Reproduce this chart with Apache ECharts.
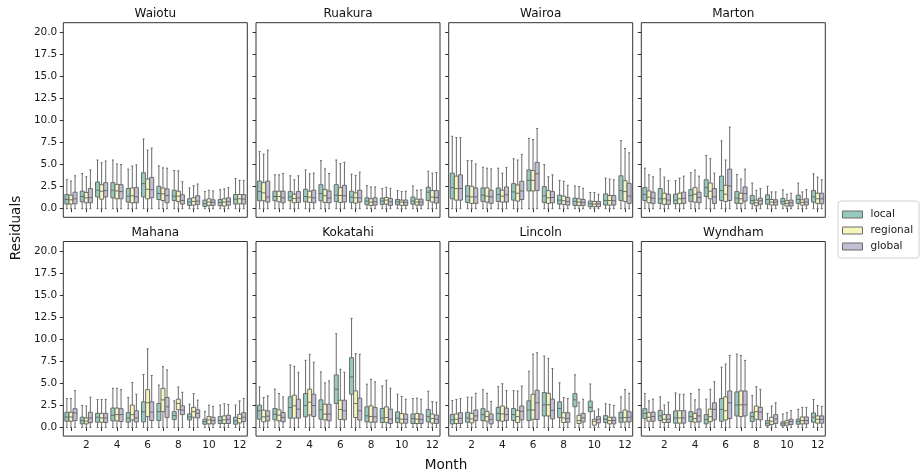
<!DOCTYPE html>
<html><head><meta charset="utf-8">
<script src="https://cdn.jsdelivr.net/npm/echarts@6/dist/echarts.min.js"></script>
<style>html,body{margin:0;padding:0;background:#fff}#c{width:921px;height:476px}</style>
</head><body><div id="c"></div><script>
const months = ['1','2','3','4','5','6','7','8','9','10','11','12'];
const sites = ['Waiotu','Ruakura','Wairoa','Marton','Mahana','Kokatahi','Lincoln','Wyndham'];
const models = ['local','regional','global'];
const yTicks = [0,2.5,5,7.5,10,12.5,15,17.5,20];

// each entry: [min, q1, median, q3, max]
const waiotuLocal = [[0,0.52,1.04,1.6,3.28],[0,0.78,1.38,1.98,3.99],[0,1.34,2.09,3.02,5.52],[0,1.23,2.09,2.95,5.52],[0,0.75,1.42,2.28,4.48],[0,1.34,2.84,4.07,7.91],[0,1.04,1.72,2.54,4.85],[0,0.93,1.42,2.09,4.33],[0,0.37,0.75,1.12,2.35],[0,0.26,0.56,0.97,1.94],[0,0.34,0.71,1.04,2.16],[0,0.52,1.08,1.6,3.4]];
const waiotuRegional = [[0,0.52,1.0,1.53,3.13],[0,0.67,1.23,1.83,3.62],[0,1.08,1.98,2.72,5.22],[0,1.12,2.01,2.76,5.07],[0,0.67,1.46,2.35,4.85],[0,1.12,2.2,3.36,6.64],[0,0.93,1.68,2.35,4.63],[0,0.82,1.42,1.98,4.29],[0,0.41,0.82,1.23,2.61],[0,0.37,0.75,1.12,2.09],[0,0.3,0.75,1.12,2.24],[0,0.56,1.12,1.6,3.21]];
const waiotuGlobal = [[0,0.56,1.12,1.87,3.73],[0,0.67,1.25,2.28,4.4],[0,1.34,2.05,2.95,5.41],[0,1.12,1.94,2.72,5.0],[0,0.67,1.34,2.39,4.96],[0,1.23,2.16,3.54,6.87],[0,0.67,1.49,2.24,4.59],[0,0.52,0.93,1.57,3.06],[0,0.49,0.86,1.46,2.8],[0,0.37,0.71,1.0,2.01],[0,0.41,0.82,1.23,2.39],[0,0.52,1.08,1.6,3.21]];

const ruakuraLocal = [[0,0.9,1.94,3.13,6.49],[0,0.9,1.38,1.98,3.84],[0,0.9,1.34,1.94,3.73],[0,0.78,1.38,2.2,4.4],[0,0.9,1.72,2.72,5.45],[0,0.82,1.53,2.72,5.52],[0,0.71,1.31,1.98,3.92],[0,0.45,0.86,1.23,2.61],[0,0.49,0.86,1.19,2.28],[0,0.45,0.78,1.04,2.05],[0,0.52,0.86,1.31,2.57],[0,0.93,1.87,2.43,4.25]];
const ruakuraRegional = [[0,0.9,1.79,2.95,6.19],[0,0.78,1.38,1.98,3.84],[0,0.67,1.16,1.64,3.28],[0,0.71,1.31,1.98,3.96],[0,0.71,1.46,2.16,4.51],[0,0.71,1.49,2.39,5.11],[0,0.63,1.23,1.79,3.77],[0,0.37,0.75,1.12,2.46],[0,0.52,0.97,1.27,2.43],[0,0.37,0.75,0.97,1.94],[0,0.41,0.75,1.08,2.09],[0,0.75,1.31,2.05,4.03]];
const ruakuraGlobal = [[0,0.75,1.31,3.13,6.64],[0,0.67,1.23,1.98,3.99],[0,0.71,1.23,1.94,3.73],[0,0.67,1.23,2.09,4.03],[0,0.67,1.19,2.01,3.99],[0,0.75,1.46,2.65,5.26],[0,0.75,1.23,2.09,4.14],[0,0.41,0.78,1.23,2.46],[0,0.37,0.78,1.16,2.31],[0,0.37,0.71,0.97,1.98],[0,0.41,0.75,1.08,2.13],[0,0.63,1.27,2.05,4.1]];

const wairoaLocal = [[0,1.12,2.39,4.03,8.21],[0,0.71,1.42,2.61,5.45],[0,0.82,1.53,2.35,4.7],[0,0.82,1.6,2.35,4.59],[0,0.97,1.9,2.84,5.67],[0,2.01,3.21,4.4,7.99],[0,0.71,1.46,2.5,5.0],[0,0.52,0.97,1.53,3.21],[0,0.37,0.82,1.19,2.57],[0,0.22,0.56,0.86,1.83],[0,0.41,0.93,1.68,3.47],[0,0.93,2.05,3.73,7.72]];
const wairoaRegional = [[0,0.97,2.28,3.69,8.06],[0,0.6,1.34,2.54,5.45],[0,0.75,1.42,2.35,4.59],[0,0.75,1.42,2.09,4.03],[0,0.86,1.75,2.69,5.52],[0,2.01,3.21,4.33,7.84],[0,0.6,1.23,2.05,3.62],[0,0.49,0.9,1.42,3.1],[0,0.37,0.75,1.12,2.5],[0,0.22,0.52,0.82,1.83],[0,0.41,0.93,1.49,3.36],[0,0.82,1.94,3.17,6.83]];
const wairoaGlobal = [[0,0.97,2.28,3.84,8.06],[0,0.6,1.34,2.35,5.07],[0,0.6,1.34,2.09,4.51],[0,0.75,1.57,2.46,4.66],[0,1.04,2.01,3.1,6.16],[0,2.05,3.96,5.26,9.1],[0,0.67,1.27,1.94,3.84],[0,0.41,0.82,1.27,2.65],[0,0.37,0.71,1.04,2.31],[0,0.22,0.56,0.82,1.64],[0,0.41,0.9,1.49,3.28],[0,0.6,1.42,2.87,6.34]];

const martonLocal = [[0,0.93,1.6,2.39,4.59],[0,0.6,1.12,2.28,4.51],[0,0.56,0.97,1.64,3.17],[0,0.82,1.49,2.16,4.07],[0,1.38,2.39,3.28,6.04],[0,0.93,2.05,3.69,7.69],[0,0.6,1.19,1.94,3.88],[0,0.56,0.93,1.49,2.91],[0,0.52,1.04,1.57,2.54],[0,0.52,0.82,1.16,2.13],[0,0.6,1.04,1.53,2.91],[0,0.75,1.34,2.05,3.96]];
const martonRegional = [[0,0.67,1.31,2.01,3.84],[0,0.49,1.12,1.75,3.58],[0,0.56,1.12,1.75,3.47],[0,0.75,1.64,2.39,4.37],[0,1.12,1.98,2.91,5.67],[0,0.82,1.64,2.65,5.52],[0,0.6,1.12,1.75,3.36],[0,0.34,0.67,0.97,2.09],[0,0.41,0.75,1.04,1.9],[0,0.3,0.6,0.9,1.64],[0,0.41,0.71,1.01,1.9],[0,0.6,1.12,1.75,3.58]];
const martonGlobal = [[0,0.6,1.19,1.87,3.62],[0,0.49,0.97,1.64,3.17],[0,0.6,1.16,1.87,3.69],[0,0.67,1.27,1.87,3.69],[0,0.6,1.34,2.28,4.03],[0,0.93,2.57,4.48,9.25],[0,0.86,1.72,2.46,4.48],[0,0.49,0.9,1.19,2.28],[0,0.41,0.75,1.01,1.9],[0,0.3,0.67,0.97,1.75],[0,0.41,0.75,1.12,2.16],[0,0.56,1.12,1.75,3.28]];

const mahanaLocal = [[0,0.71,1.19,1.72,3.28],[0,0.41,0.78,1.16,2.5],[0,0.6,1.16,1.6,3.17],[0,0.75,1.38,2.2,4.44],[0,0.6,1.08,1.68,3.4],[0,0.63,1.79,2.91,6.01],[0,0.78,1.79,2.72,4.81],[0,0.9,1.34,1.79,3.02],[0,0.86,1.19,1.53,2.65],[0,0.37,0.67,0.93,1.83],[0,0.45,0.78,1.23,2.54],[0,0.37,0.75,1.16,2.54]];
const mahanaRegional = [[0,0.71,1.19,1.72,3.28],[0,0.41,0.71,1.08,2.43],[0,0.6,1.08,1.6,3.17],[0,0.75,1.46,2.2,4.44],[0,0.86,1.46,2.54,5.11],[0,1.23,2.8,4.29,8.92],[0,1.79,3.13,4.44,6.9],[0,2.01,2.72,3.21,4.59],[0,1.16,1.79,2.28,3.84],[0,0.41,0.86,1.23,2.54],[0,0.45,0.86,1.31,2.69],[0,0.52,1.01,1.49,3.02]];
const mahanaGlobal = [[0,0.78,1.64,2.13,4.18],[0,0.56,1.08,1.72,3.43],[0,0.56,1.08,1.6,3.17],[0,0.67,1.46,2.13,4.29],[0,0.63,1.08,1.9,3.77],[0,0.78,1.75,2.91,5.9],[0,1.12,2.35,3.4,6.53],[0,1.46,1.98,2.46,3.99],[0,1.08,1.6,2.01,3.1],[0,0.41,0.78,1.16,2.39],[0,0.45,0.93,1.38,2.61],[0,0.67,1.16,1.68,3.28]];

const kokatahiLocal = [[0,0.94,1.89,2.53,4.6],[0,0.87,1.51,2.15,4.34],[0,1.06,2.26,3.47,7.09],[0,1.21,2.49,3.85,7.62],[0,0.94,2.0,3.13,6.3],[0,2.72,4.34,5.96,10.64],[0,3.77,5.74,7.92,12.38],[0,0.64,1.32,2.34,4.91],[0,0.57,1.06,2.15,4.72],[0,0.57,1.06,1.77,3.77],[0,0.45,1.02,1.51,3.28],[0,0.64,1.25,2.04,4.11]];
const kokatahiRegional = [[0,0.64,1.21,1.96,3.4],[0,0.75,1.4,2.0,3.85],[0,1.06,2.45,3.66,6.94],[0,1.43,2.87,4.34,8.3],[0,0.87,1.51,2.64,5.06],[0,0.91,2.04,3.09,6.6],[0,1.13,2.72,4.15,8.38],[0,0.6,1.25,2.45,5.47],[0,0.57,1.13,2.34,5.36],[0,0.49,0.94,1.58,3.51],[0,0.45,0.94,1.58,3.32],[0,0.49,1.02,1.51,2.94]];
const kokatahiGlobal = [[0,0.75,1.28,1.89,3.58],[0,0.64,1.13,1.7,3.47],[0,1.06,2.08,3.2,6.26],[0,1.25,2.49,3.77,7.4],[0,0.75,1.51,2.64,5.28],[0,0.87,1.89,3.09,6.26],[0,0.83,1.89,3.32,8.3],[0,0.6,1.21,2.26,5.17],[0,0.45,0.94,2.08,4.45],[0,0.49,0.94,1.51,3.2],[0,0.45,0.91,1.51,3.2],[0,0.45,0.94,1.4,2.87]];

const lincolnLocal = [[0,0.41,0.86,1.46,3.06],[0,0.6,1.08,1.72,3.43],[0,0.78,1.46,2.13,4.29],[0,0.78,1.6,2.28,4.63],[0,0.78,1.46,2.16,4.18],[0,0.78,1.98,3.02,6.38],[0,1.31,2.57,3.96,8.1],[0,1.12,2.16,2.91,5.07],[0,2.35,3.13,3.84,5.97],[0,1.79,2.28,2.99,4.93],[0,0.56,0.93,1.34,2.69],[0,0.6,1.08,1.72,3.47]];
const lincolnRegional = [[0,0.45,0.93,1.53,3.17],[0,0.52,0.97,1.6,3.43],[0,0.71,1.23,1.83,3.88],[0,0.71,1.53,2.43,4.96],[0,0.56,1.23,1.94,4.14],[0,0.93,1.98,3.77,8.32],[0,1.31,2.57,3.88,7.84],[0,0.56,1.08,1.68,3.4],[0,0.45,0.78,1.38,2.87],[0,0.26,0.71,0.93,1.87],[0,0.41,0.78,1.16,2.61],[0,0.63,1.12,1.98,4.29]];
const lincolnGlobal = [[0,0.45,1.04,1.68,3.28],[0,0.78,1.31,1.98,3.88],[0,0.41,0.93,1.53,2.95],[0,0.78,1.46,2.2,4.18],[0,0.86,1.83,2.43,4.7],[0,0.9,2.8,4.22,8.47],[0,0.97,1.94,3.21,6.68],[0,0.6,1.01,1.68,3.28],[0,0.63,1.08,1.6,3.21],[0,0.52,0.93,1.23,2.09],[0,0.41,0.78,1.16,2.5],[0,0.63,1.16,1.79,3.88]];

const wyndhamLocal = [[0,1.01,1.6,2.13,3.84],[0,0.78,1.31,1.94,3.47],[0,0.49,1.08,1.87,3.92],[0,0.67,1.23,1.79,3.84],[0,0.41,0.9,1.46,3.21],[0,0.71,2.05,3.28,6.83],[0,1.31,2.54,4.03,8.32],[0,0.67,1.23,1.72,3.62],[0,0.19,0.49,0.78,1.57],[0,0.19,0.41,0.63,1.53],[0,0.37,0.67,0.93,2.05],[0,0.6,1.16,1.64,3.17]];
const wyndhamRegional = [[0,0.71,1.16,1.68,3.02],[0,0.56,0.93,1.46,2.54],[0,0.49,1.08,1.9,3.77],[0,0.6,1.01,1.6,3.13],[0,0.67,1.23,2.09,4.33],[0,0.86,1.9,3.47,7.2],[0,1.23,2.57,4.14,8.17],[0,0.93,1.79,2.43,4.63],[0,0.34,0.71,1.16,2.43],[0,0.26,0.52,0.78,1.68],[0,0.41,0.78,1.19,2.28],[0,0.49,0.93,1.31,2.5]];
const wyndhamGlobal = [[0,0.71,1.23,1.75,3.21],[0,0.56,0.93,1.46,2.87],[0,0.49,1.08,1.9,3.77],[0,0.63,1.31,2.09,4.33],[0,0.86,2.05,2.8,5.19],[0,1.01,2.8,4.14,8.17],[0,1.31,2.57,4.14,7.61],[0,0.86,1.75,2.28,4.33],[0,0.45,0.97,1.46,2.8],[0,0.34,0.67,0.93,1.9],[0,0.41,0.78,1.19,2.28],[0,0.49,0.93,1.31,2.39]];

const siteData = [
  [waiotuLocal, waiotuRegional, waiotuGlobal],
  [ruakuraLocal, ruakuraRegional, ruakuraGlobal],
  [wairoaLocal, wairoaRegional, wairoaGlobal],
  [martonLocal, martonRegional, martonGlobal],
  [mahanaLocal, mahanaRegional, mahanaGlobal],
  [kokatahiLocal, kokatahiRegional, kokatahiGlobal],
  [lincolnLocal, lincolnRegional, lincolnGlobal],
  [wyndhamLocal, wyndhamRegional, wyndhamGlobal]
];

const FONT = 'DejaVu Sans';
const colors = ['#96cac1', '#f6f6bc', '#c1bed6'];
const edge = '#6a6a6a';
const colLeft = [63.3, 256, 448.7, 641.3];
const rowTop = [22.7, 241.5];
const gW = 184, gH = 194.6;

const grids = [], xAxes = [], yAxes = [], series = [], graphics = [];
for (let s = 0; s < 8; s++) {
  const r = Math.floor(s / 4), c = s % 4;
  grids.push({left: colLeft[c], top: rowTop[r], width: gW, height: gH,
    show: true, borderColor: '#333', borderWidth: 1, backgroundColor: 'transparent'});
  xAxes.push({type: 'category', gridIndex: s, data: months, boundaryGap: true,
    axisLine: {show: false},
    axisTick: {show: true, alignWithLabel: true, interval: 0, length: 3.5, lineStyle: {color: '#333'}},
    axisLabel: {show: r === 1, interval: (i) => i % 2 === 1, margin: 4,
      fontFamily: FONT, fontSize: 10.5, color: '#1a1a1a'},
    splitLine: {show: false}});
  yAxes.push({type: 'value', gridIndex: s, min: -0.98, max: 21.1,
    axisLine: {show: false},
    axisTick: {show: true, length: 3.5, customValues: yTicks, lineStyle: {color: '#333'}},
    axisLabel: {show: c === 0, customValues: yTicks, margin: 6, formatter: (v) => v.toFixed(1),
      fontFamily: FONT, fontSize: 10.5, color: '#1a1a1a'},
    splitLine: {show: false}});
  graphics.push({type: 'text', x: colLeft[c] + gW / 2, y: rowTop[r] - 9,
    style: {text: sites[s], textAlign: 'center', textVerticalAlign: 'middle',
      font: '12px "DejaVu Sans"', fill: '#111'}});
  for (let h = 0; h < 3; h++) {
    series.push({
      type: 'custom', name: models[h], xAxisIndex: s, yAxisIndex: s,
      itemStyle: {color: colors[h]},
      encode: {x: 0, y: [1, 2, 3, 4, 5]},
      data: siteData[s][h].map((d, i) => [i].concat(d)),
      silent: true, animation: false,
      renderItem: function (params, api) {
        const xi = api.value(0);
        const ys = [1, 2, 3, 4, 5].map(k => api.coord([xi, api.value(k)])[1]);
        const cx0 = api.coord([xi, 0])[0];
        const bw = api.size([1, 0])[0];
        const w = bw * 0.8 / 3;
        const cx = cx0 + (h - 1) * w;
        const bwid = w * 0.98;
        const left = cx - bwid / 2;
        const cap = bwid * 0.5;
        const ls = {stroke: edge, lineWidth: 1};
        return {type: 'group', children: [
          {type: 'line', shape: {x1: cx, y1: ys[3], x2: cx, y2: ys[4]}, style: ls},
          {type: 'line', shape: {x1: cx, y1: ys[1], x2: cx, y2: ys[0]}, style: ls},
          {type: 'line', shape: {x1: cx - cap / 2, y1: ys[4], x2: cx + cap / 2, y2: ys[4]}, style: ls},
          {type: 'line', shape: {x1: cx - cap / 2, y1: ys[0], x2: cx + cap / 2, y2: ys[0]}, style: ls},
          {type: 'rect', shape: {x: left, y: ys[3], width: bwid, height: ys[1] - ys[3]},
            style: {fill: colors[h], stroke: edge, lineWidth: 1}},
          {type: 'line', shape: {x1: left, y1: ys[2], x2: left + bwid, y2: ys[2]}, style: ls}
        ]};
      }
    });
  }
}

graphics.push({type: 'text', x: 446, y: 465,
  style: {text: 'Month', textAlign: 'center', textVerticalAlign: 'middle', font: '13.6px "DejaVu Sans"', fill: '#111'}});
graphics.push({type: 'text', x: 16, y: 228, rotation: Math.PI / 2,
  style: {text: 'Residuals', textAlign: 'center', textVerticalAlign: 'middle', font: '13.6px "DejaVu Sans"', fill: '#111'}});

const chart = echarts.init(document.getElementById('c'), null, {renderer: 'canvas'});
chart.setOption({
  animation: false,
  backgroundColor: '#fff',
  grid: grids, xAxis: xAxes, yAxis: yAxes, series: series,
  legend: {orient: 'vertical', left: 838, top: 201, itemWidth: 20, itemHeight: 7, itemGap: 5,
    padding: [8, 6, 6, 4], borderColor: '#d0d0d0', borderWidth: 1, borderRadius: 3,
    backgroundColor: '#fff', selectedMode: false,
    textStyle: {fontFamily: FONT, fontSize: 10.5, color: '#1a1a1a', padding: [0, 0, 0, 3]},
    data: models.map((m, h) => ({name: m, icon: 'rect',
      itemStyle: {color: colors[h], borderColor: edge, borderWidth: 1}}))},
  graphic: graphics
});
</script></body></html>
